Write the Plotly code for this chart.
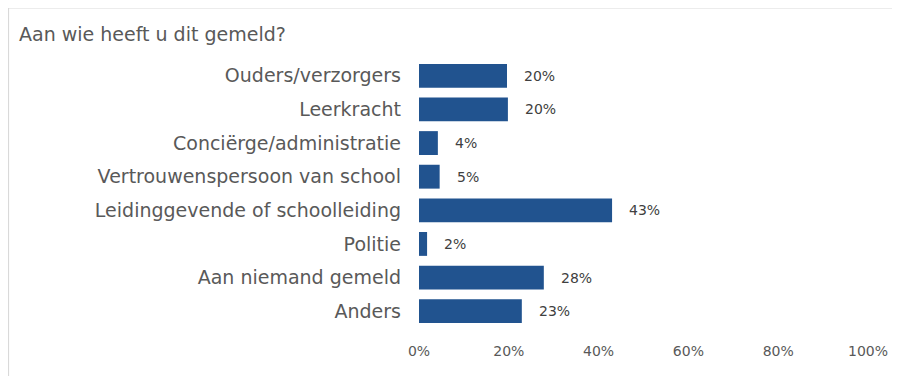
import plotly.graph_objects as go

categories = [
    "Ouders/verzorgers",
    "Leerkracht",
    "Conciërge/administratie",
    "Vertrouwenspersoon van school",
    "Leidinggevende of schoolleiding",
    "Politie",
    "Aan niemand gemeld",
    "Anders",
]
values = [19.6, 19.8, 4.2, 4.6, 43.0, 1.8, 27.8, 22.9]
tick_vals = [0, 20, 40, 60, 80, 100]
tick_text = ["0%", "20%", "40%", "60%", "80%", "100%"]

FONT = "DejaVu Sans"
BAR = "#21538f"
GREY = "#595959"

# page body has an 8px margin, so the figure is drawn 8px in from the corner
W, H, OFF = 892, 368, 8

fig = go.Figure()
fig.add_trace(go.Bar(
    x=values, y=categories, orientation="h",
    marker=dict(color=BAR, line=dict(width=0)),
    hoverinfo="skip",
))

# labels next to each bar
for cat, v in zip(categories, values):
    fig.add_annotation(
        x=v, y=cat, text=f"{round(v):.0f}%", showarrow=False,
        xanchor="left", xshift=15,
        font=dict(family=FONT, size=14, color="#404040"),
    )

# chart frame (left + top edges visible)
fig.add_shape(type="rect", xref="paper", yref="paper",
              x0=-0.9152, x1=1.07, y0=-0.2, y1=1.1914,
              line=dict(color="#d9d9d9", width=2), layer="below")

fig.update_layout(
    width=W, height=H,
    margin=dict(l=419 - OFF, r=27, t=59 - OFF, b=48),
    paper_bgcolor="white", plot_bgcolor="white",
    bargap=0.29,
    showlegend=False,
    title=dict(text="Aan wie heeft u dit gemeld?", x=(19 - OFF) / W, xanchor="left",
               y=1 - (34 - OFF) / H, yanchor="middle",
               font=dict(family=FONT, size=19, color=GREY)),
    xaxis=dict(range=[0, 100], tickvals=tick_vals, ticktext=tick_text,
               showgrid=False, zeroline=False, showline=False,
               ticklabelstandoff=13,
               tickfont=dict(family=FONT, size=14, color=GREY)),
    yaxis=dict(autorange="reversed", showgrid=False, zeroline=False,
               showline=False, ticks="", ticklabelstandoff=17,
               tickfont=dict(family=FONT, size=19, color=GREY)),
)

fig.write_html("out.html")
